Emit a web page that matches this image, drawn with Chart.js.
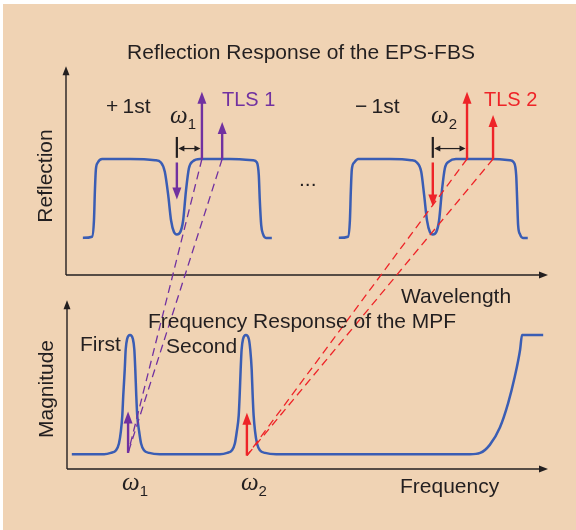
<!DOCTYPE html>
<html>
<head>
<meta charset="utf-8">
<script src="https://cdn.jsdelivr.net/npm/chart.js@4.4.1/dist/chart.umd.min.js"></script>
<style>
  html, body { margin: 0; background: #fff; }
  canvas { display: block; }
</style>
</head>
<body>
<canvas id="diagram" width="576" height="530"></canvas>
<script>
// EPS-FBS reflection, +1st order band (wavelength / reflection, arbitrary units)
const plus1Wave = [0.35, 0.54, 0.58, 0.60, 0.62, 0.66, 0.75, 1.33, 1.85, 1.97, 2.05, 2.12, 2.18, 2.24, 2.30,
                   2.37, 2.43, 2.49, 2.55, 2.63, 2.78, 3.40, 3.88, 3.96, 4.00, 4.02, 4.05, 4.09, 4.15, 4.27];
const plus1Refl = [0.32, 0.33, 0.47, 0.73, 0.91, 0.97, 1.00, 1.00, 0.99, 0.97, 0.89, 0.69, 0.47, 0.37, 0.35,
                   0.37, 0.47, 0.73, 0.92, 0.98, 1.00, 1.00, 0.99, 0.97, 0.86, 0.65, 0.43, 0.35, 0.32, 0.32];

// -1st order band
const minus1Wave = [5.66, 5.85, 5.89, 5.91, 5.93, 5.98, 6.06, 6.72, 7.16, 7.28, 7.37, 7.43, 7.49, 7.55, 7.61,
                    7.68, 7.74, 7.80, 7.86, 7.95, 8.09, 8.80, 9.21, 9.29, 9.34, 9.36, 9.38, 9.42, 9.48, 9.58];
const minus1Refl = [0.32, 0.33, 0.47, 0.73, 0.91, 0.97, 1.00, 1.00, 0.99, 0.97, 0.89, 0.69, 0.47, 0.37, 0.35,
                    0.37, 0.47, 0.73, 0.92, 0.98, 1.00, 1.00, 0.99, 0.97, 0.86, 0.65, 0.43, 0.35, 0.32, 0.32];

// MPF frequency response (frequency / magnitude): two passbands, then the high-pass edge
const mpfFreq = [0.10, 0.77, 0.91, 1.02, 1.08, 1.12, 1.15, 1.17, 1.20, 1.22, 1.25, 1.31, 1.37, 1.40, 1.42, 1.44,
                 1.46, 1.50, 1.54, 1.60, 1.71, 1.93,
                 3.18, 3.33, 3.43, 3.49, 3.53, 3.57, 3.59, 3.61, 3.63, 3.66, 3.72, 3.78, 3.81, 3.84, 3.86,
                 3.88, 3.91, 3.95, 4.01, 4.12, 4.35,
                 8.38, 8.59, 8.79, 9.00, 9.17, 9.31, 9.42, 9.46, 9.90];
const mpfMag = [0.11, 0.11, 0.12, 0.14, 0.19, 0.28, 0.40, 0.55, 0.74, 0.89, 0.97, 1.00, 0.97, 0.89, 0.74, 0.55,
                0.40, 0.28, 0.19, 0.14, 0.12, 0.11,
                0.11, 0.12, 0.14, 0.19, 0.28, 0.40, 0.55, 0.74, 0.89, 0.97, 1.00, 0.97, 0.89, 0.74, 0.55,
                0.40, 0.28, 0.19, 0.14, 0.12, 0.11,
                0.11, 0.12, 0.18, 0.31, 0.49, 0.69, 0.89, 1.00, 1.00];

// tunable laser sources: wavelengths, arrow heights, base on the band top
const tls1Wave = [2.82, 3.24];
const tls1Top = [1.58, 1.32];
const tls2Wave = [8.32, 8.86];
const tls2Top = [1.58, 1.38];
const tlsBase = 1.0;

// notch markers (down arrows) and the omega spacing brackets
const notchWave = [2.30, 7.61];
const notchFrom = [0.97, 0.97];
const notchTip = [0.65, 0.59];
const bracketLow = 1.01, bracketHigh = 1.19, bracketLevel = 1.09;

// beat notes on the MPF frequency axis
const beatFreq = [1.27, 3.74];
const beatLow = [0.12, 0.10];
const beatTop = [0.43, 0.42];
const beatNames = ['1', '2'];

// axis extents
const waveMax = 10, reflMax = 1.8;
const freqMax = 10, magMax = 1.26;

const W = 576, H = 530;
const BG = '#f0d3b4', INK = '#231f20', BLUE = '#3a5db4', PURPLE = '#7131a0', RED = '#ee2428';
const SANS = '"Liberation Sans", Arial, sans-serif';
const SERIF = '"Liberation Serif", "Times New Roman", serif';

// scale range so that value v0 sits at pixel p0 and v1 at p1
function span(v0, p0, v1, p1, size, flip) {
  const k = (p1 - p0) / (v1 - v0);
  const a = v0 - p0 / k, b = v0 + (size - p0) / k;
  return flip ? { min: b, max: a } : { min: a, max: b };
}

const pts = (xs, ys) => xs.map((x, i) => ({ x, y: ys[i] }));

function arrowHead(ctx, x0, y0, x1, y1, len, half) {
  const a = Math.atan2(y1 - y0, x1 - x0);
  ctx.beginPath();
  ctx.moveTo(x1, y1);
  ctx.lineTo(x1 - len * Math.cos(a) + half * Math.sin(a), y1 - len * Math.sin(a) - half * Math.cos(a));
  ctx.lineTo(x1 - len * Math.cos(a) - half * Math.sin(a), y1 - len * Math.sin(a) + half * Math.cos(a));
  ctx.closePath();
  ctx.fill();
}

function arrow(ctx, x0, y0, x1, y1, color, lw, len, half, both) {
  const a = Math.atan2(y1 - y0, x1 - x0);
  ctx.save();
  ctx.strokeStyle = color;
  ctx.fillStyle = color;
  ctx.lineWidth = lw;
  ctx.beginPath();
  ctx.moveTo(both ? x0 + (len - 1) * Math.cos(a) : x0, both ? y0 + (len - 1) * Math.sin(a) : y0);
  ctx.lineTo(x1 - (len - 1) * Math.cos(a), y1 - (len - 1) * Math.sin(a));
  ctx.stroke();
  arrowHead(ctx, x0, y0, x1, y1, len, half);
  if (both) arrowHead(ctx, x1, y1, x0, y0, len, half);
  ctx.restore();
}

function text(ctx, str, x, y, font, color, align) {
  ctx.font = font;
  ctx.fillStyle = color || INK;
  ctx.textAlign = align || 'left';
  ctx.textBaseline = 'alphabetic';
  ctx.fillText(str, x, y);
}

function omega(ctx, sub, x, y) {
  text(ctx, 'ω', x, y, 'italic 25px ' + SERIF);
  const w = ctx.measureText('ω').width;
  text(ctx, sub, x + w, y + 6, '15px ' + SANS);
}

const scenery = {
  id: 'scenery',
  beforeDraw(chart) {
    const ctx = chart.ctx;
    ctx.save();
    ctx.fillStyle = '#fff';
    ctx.fillRect(0, 0, W, H);
    ctx.fillStyle = BG;
    ctx.fillRect(3, 4, W - 3, H - 4);
    ctx.restore();
  },
  beforeDatasetsDraw(chart) {
    const ctx = chart.ctx, s = chart.scales;
    // the two pairs of axes
    const tx = s.xW.getPixelForValue(0), ty = s.yR.getPixelForValue(0);
    arrow(ctx, tx, ty, tx, s.yR.getPixelForValue(reflMax), INK, 1.4, 9, 3.5);
    arrow(ctx, tx, ty, s.xW.getPixelForValue(waveMax), ty, INK, 1.4, 9, 3.5);
    const bx = s.xF.getPixelForValue(0), by = s.yM.getPixelForValue(0);
    arrow(ctx, bx, by, bx, s.yM.getPixelForValue(magMax), INK, 1.4, 9, 3.5);
    arrow(ctx, bx, by, s.xF.getPixelForValue(freqMax), by, INK, 1.4, 9, 3.5);
  },
  afterDatasetsDraw(chart) {
    const ctx = chart.ctx, s = chart.scales;
    const wx = v => s.xW.getPixelForValue(v), ry = v => s.yR.getPixelForValue(v);
    const fx = v => s.xF.getPixelForValue(v), my = v => s.yM.getPixelForValue(v);

    // dashed mapping from each laser line down to its beat note
    const links = [[tls1Wave, 0, PURPLE], [tls2Wave, 1, RED]];
    ctx.save();
    ctx.lineWidth = 1.3;
    ctx.setLineDash([8, 5]);
    links.forEach(([waves, k, color]) => {
      ctx.strokeStyle = color;
      waves.forEach(w => {
        ctx.beginPath();
        ctx.moveTo(wx(w), ry(tlsBase));
        ctx.lineTo(fx(beatFreq[k]), my(beatLow[k]));
        ctx.stroke();
      });
    });
    ctx.restore();

    // laser lines
    tls1Wave.forEach((w, i) => arrow(ctx, wx(w), ry(tlsBase), wx(w), ry(tls1Top[i]), PURPLE, 2.4, 12, 4.5));
    tls2Wave.forEach((w, i) => arrow(ctx, wx(w), ry(tlsBase), wx(w), ry(tls2Top[i]), RED, 2.4, 12, 4.5));

    // notch arrows and omega brackets
    const notchColors = [PURPLE, RED];
    const bracketEnds = [tls1Wave[0], tls2Wave[0]];
    notchWave.forEach((w, i) => {
      arrow(ctx, wx(w), ry(notchFrom[i]), wx(w), ry(notchTip[i]), notchColors[i], 2.4, 12, 4.5);
      ctx.save();
      ctx.strokeStyle = INK;
      ctx.lineWidth = 2.2;
      ctx.beginPath();
      ctx.moveTo(wx(w), ry(bracketLow));
      ctx.lineTo(wx(w), ry(bracketHigh));
      ctx.stroke();
      ctx.restore();
      arrow(ctx, wx(w) + 1.5, ry(bracketLevel), wx(bracketEnds[i]) - 1.5, ry(bracketLevel), INK, 1.2, 6, 3, true);
    });

    // beat notes
    beatFreq.forEach((f, i) => arrow(ctx, fx(f), my(beatLow[i]), fx(f), my(beatTop[i]), notchColors[i], 2.4, 12, 4.5));

    // labels
    const big = '21px ' + SANS;
    text(ctx, 'Reflection Response of the EPS-FBS', 301, 59, big, INK, 'center');
    text(ctx, '+\u20091st', 106, 113, big);
    text(ctx, '\u2212\u20091st', 355, 113, big);
    text(ctx, 'TLS 1', 222, 106, '20px ' + SANS, PURPLE);
    text(ctx, 'TLS 2', 484, 106, '20px ' + SANS, RED);
    omega(ctx, '1', 170, 123);
    omega(ctx, '2', 431, 123);
    text(ctx, '...', 299, 186, big);
    text(ctx, 'Wavelength', 401, 303, big);
    text(ctx, 'Frequency Response of the MPF', 148, 328, big);
    text(ctx, 'First', 80, 351, big);
    text(ctx, 'Second', 166, 353, big);
    text(ctx, 'Frequency', 400, 493, big);
    beatFreq.forEach((f, i) => omega(ctx, beatNames[i], fx(f) - 6, 490));

    ctx.save();
    ctx.translate(52, 176);
    ctx.rotate(-Math.PI / 2);
    text(ctx, 'Reflection', 0, 0, big, INK, 'center');
    ctx.restore();
    ctx.save();
    ctx.translate(53, 389);
    ctx.rotate(-Math.PI / 2);
    text(ctx, 'Magnitude', 0, 0, big, INK, 'center');
    ctx.restore();
  }
};

const curve = (xs, ys, xAxisID, yAxisID) => ({
  data: pts(xs, ys),
  xAxisID, yAxisID,
  showLine: true,
  borderColor: BLUE,
  borderWidth: 2.5,
  pointRadius: 0,
  cubicInterpolationMode: 'monotone',
  fill: false
});

const hidden = (axis, r) => ({ type: 'linear', axis, display: false, bounds: 'data', min: r.min, max: r.max });

new Chart(document.getElementById('diagram'), {
  type: 'scatter',
  data: {
    datasets: [
      curve(plus1Wave, plus1Refl, 'xW', 'yR'),
      curve(minus1Wave, minus1Refl, 'xW', 'yR'),
      curve(mpfFreq, mpfMag, 'xF', 'yM')
    ]
  },
  options: {
    responsive: false,
    animation: false,
    layout: { padding: 0 },
    plugins: { legend: { display: false }, tooltip: { enabled: false } },
    scales: {
      xW: hidden('x', span(0, 66, waveMax, 548, W, false)),
      yR: hidden('y', span(0, 275, 1, 159, H, true)),
      xF: hidden('x', span(0, 67, freqMax, 548, W, false)),
      yM: hidden('y', span(0, 469, 1, 335, H, true))
    }
  },
  plugins: [scenery]
});
</script>
</body>
</html>
